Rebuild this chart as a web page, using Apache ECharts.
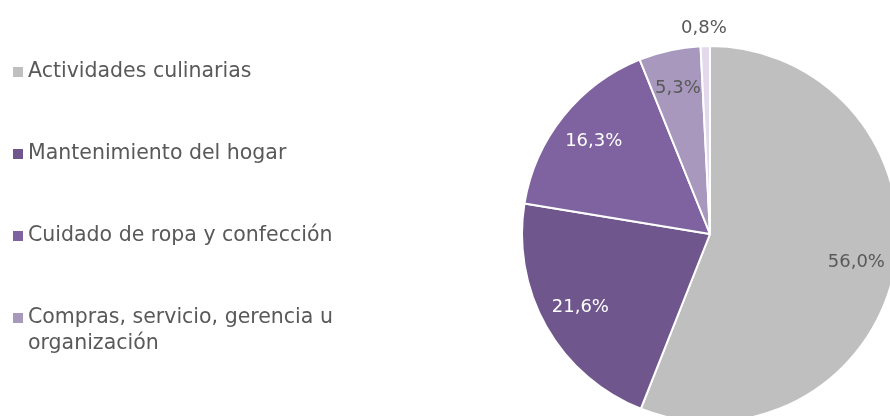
<!DOCTYPE html>
<html>
<head>
<meta charset="utf-8">
<script src="https://cdn.jsdelivr.net/npm/echarts@6/dist/echarts.min.js"></script>
<style>
  html, body { margin: 0; padding: 0; background: #fff; }
  #myChart { width: 890px; height: 416px; }
</style>
</head>
<body>
<div id="myChart"></div>
<script>
// categories and shares (%)
var categories = [
  "Actividades culinarias",
  "Mantenimiento del hogar",
  "Cuidado de ropa y confección",
  "Compras, servicio, gerencia u organización",
  "Otros"
];
var shares = [56.0, 21.6, 16.3, 5.3, 0.8];
var sliceColors = ["#BFBFBF", "#6F578D", "#7F63A0", "#A898BE", "#E2DAEC"];
var labelColors = ["#595959", "#ffffff", "#ffffff", "#595959", "#595959"];
var legendNames = categories.slice(0, 4);

var font = "DejaVu Sans";
var textGrey = "#595959";

function fmt(p) {
  return p.value.toFixed(1).replace(".", ",") + "%";
}

// one legend per row; the wrapped last item gets an empty first line
// so the icon lines up with "Compras..." instead of the block middle
var legendTops = [59, 141, 223, 279];
var legends = legendNames.map(function (name, i) {
  return {
    orient: "vertical",
    left: 13,
    top: legendTops[i],
    padding: 0,
    icon: "rect",
    itemWidth: 10,
    itemHeight: 10,
    itemStyle: { borderWidth: 0 },
    formatter: function (n) {
      return n === "Compras, servicio, gerencia u organización"
        ? "\nCompras, servicio, gerencia u\norganización" : n;
    },
    textStyle: { fontFamily: font, fontSize: 20.5, lineHeight: 26, color: textGrey },
    data: [name]
  };
});

var option = {
  animation: false,
  legend: legends,
  series: [
    {
      // visible pie; only the tiny slice gets its label outside
      name: "pie",
      type: "pie",
      center: [710, 234],
      radius: [0, 188],
      startAngle: 90,
      clockwise: true,
      avoidLabelOverlap: false,
      itemStyle: { borderColor: "#ffffff", borderWidth: 2 },
      emphasis: { scale: false },
      data: categories.map(function (name, i) {
        var small = shares[i] < 2;
        return {
          name: name,
          value: shares[i],
          itemStyle: { color: sliceColors[i] },
          label: {
            show: small,
            position: "outside",
            formatter: fmt,
            color: labelColors[i],
            fontFamily: font,
            fontSize: 18,
            distanceToLabelLine: -22
          },
          labelLine: { show: false, length: 18, length2: 0 }
        };
      })
    },
    {
      // transparent ring that carries the inner labels further out
      name: "labels",
      type: "pie",
      center: [710, 234],
      radius: [104, 188],
      startAngle: 90,
      clockwise: true,
      silent: true,
      itemStyle: { color: "rgba(0,0,0,0)" },
      emphasis: { disabled: true },
      data: categories.map(function (name, i) {
        return {
          name: name,
          value: shares[i],
          label: {
            show: shares[i] >= 2,
            position: "inside",
            formatter: fmt,
            color: labelColors[i],
            fontFamily: font,
            fontSize: 18
          }
        };
      })
    }
  ]
};

var myChart = echarts.init(document.getElementById("myChart"));
myChart.setOption(option);
</script>
</body>
</html>
